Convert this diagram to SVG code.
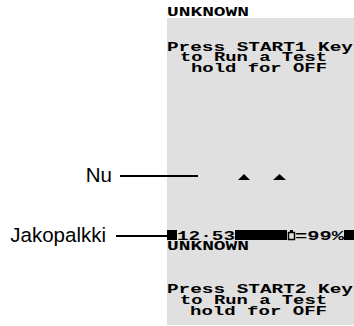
<svg xmlns="http://www.w3.org/2000/svg" width="354" height="326" viewBox="0 0 354 326">
<style>
.lcd{font-family:"Liberation Mono","Courier New",monospace;font-weight:bold;font-size:13px;fill:#000}
.lbl{font-family:"Liberation Sans",Arial,sans-serif;font-size:20.5px;fill:#000;text-anchor:end}
.conn{stroke:#000;stroke-width:2;fill:none}
</style>
<rect x="0" y="0" width="354" height="326" fill="#fff"/>
<g id="screen">
<rect x="167" y="18" width="187" height="307" fill="#e0e0e0"/>
<text class="lcd" x="167" y="15.5" textLength="82" lengthAdjust="spacingAndGlyphs">UNKNOWN</text>
<text class="lcd" x="167" y="50.5" textLength="186" lengthAdjust="spacingAndGlyphs">Press START1 Key</text>
<text class="lcd" x="180" y="61" textLength="147" lengthAdjust="spacingAndGlyphs">to Run a Test</text>
<text class="lcd" x="191" y="71.5" textLength="136" lengthAdjust="spacingAndGlyphs">hold for OFF</text>
</g>
<g id="nu-marker">
<polygon points="238,180 244,174 250,180" fill="#000"/>
<polygon points="273,180 279.5,174 286,180" fill="#000"/>
</g>
<g id="status-bar">
<rect x="167" y="230" width="10" height="10" fill="#000"/>
<text class="lcd" x="177" y="239.5" textLength="58" lengthAdjust="spacingAndGlyphs">12·53</text>
<rect x="235" y="230" width="52" height="10" fill="#000"/>
<rect x="288.5" y="232.5" width="6" height="7" fill="none" stroke="#000" stroke-width="1.5"/>
<rect x="290" y="230" width="3" height="2" fill="#000"/>
<text class="lcd" x="295" y="239.5" textLength="49" lengthAdjust="spacingAndGlyphs">=99%</text>
<rect x="344" y="230" width="10" height="10" fill="#000"/>
</g>
<g id="screen2">
<text class="lcd" x="167" y="249.5" textLength="82" lengthAdjust="spacingAndGlyphs">UNKNOWN</text>
<text class="lcd" x="167" y="292.5" textLength="186" lengthAdjust="spacingAndGlyphs">Press START2 Key</text>
<text class="lcd" x="180" y="303.5" textLength="147" lengthAdjust="spacingAndGlyphs">to Run a Test</text>
<text class="lcd" x="190" y="314.5" textLength="137" lengthAdjust="spacingAndGlyphs">hold for OFF</text>
</g>
<g id="label-nu">
<text class="lbl" x="112" y="182">Nu</text>
</g>
<g id="label-jakopalkki">
<text class="lbl" x="106" y="242">Jakopalkki</text>
</g>
<g id="connectors">
<line class="conn" x1="120" y1="176" x2="198" y2="176"/>
<line class="conn" x1="116" y1="236" x2="167" y2="236"/>
</g>
</svg>
